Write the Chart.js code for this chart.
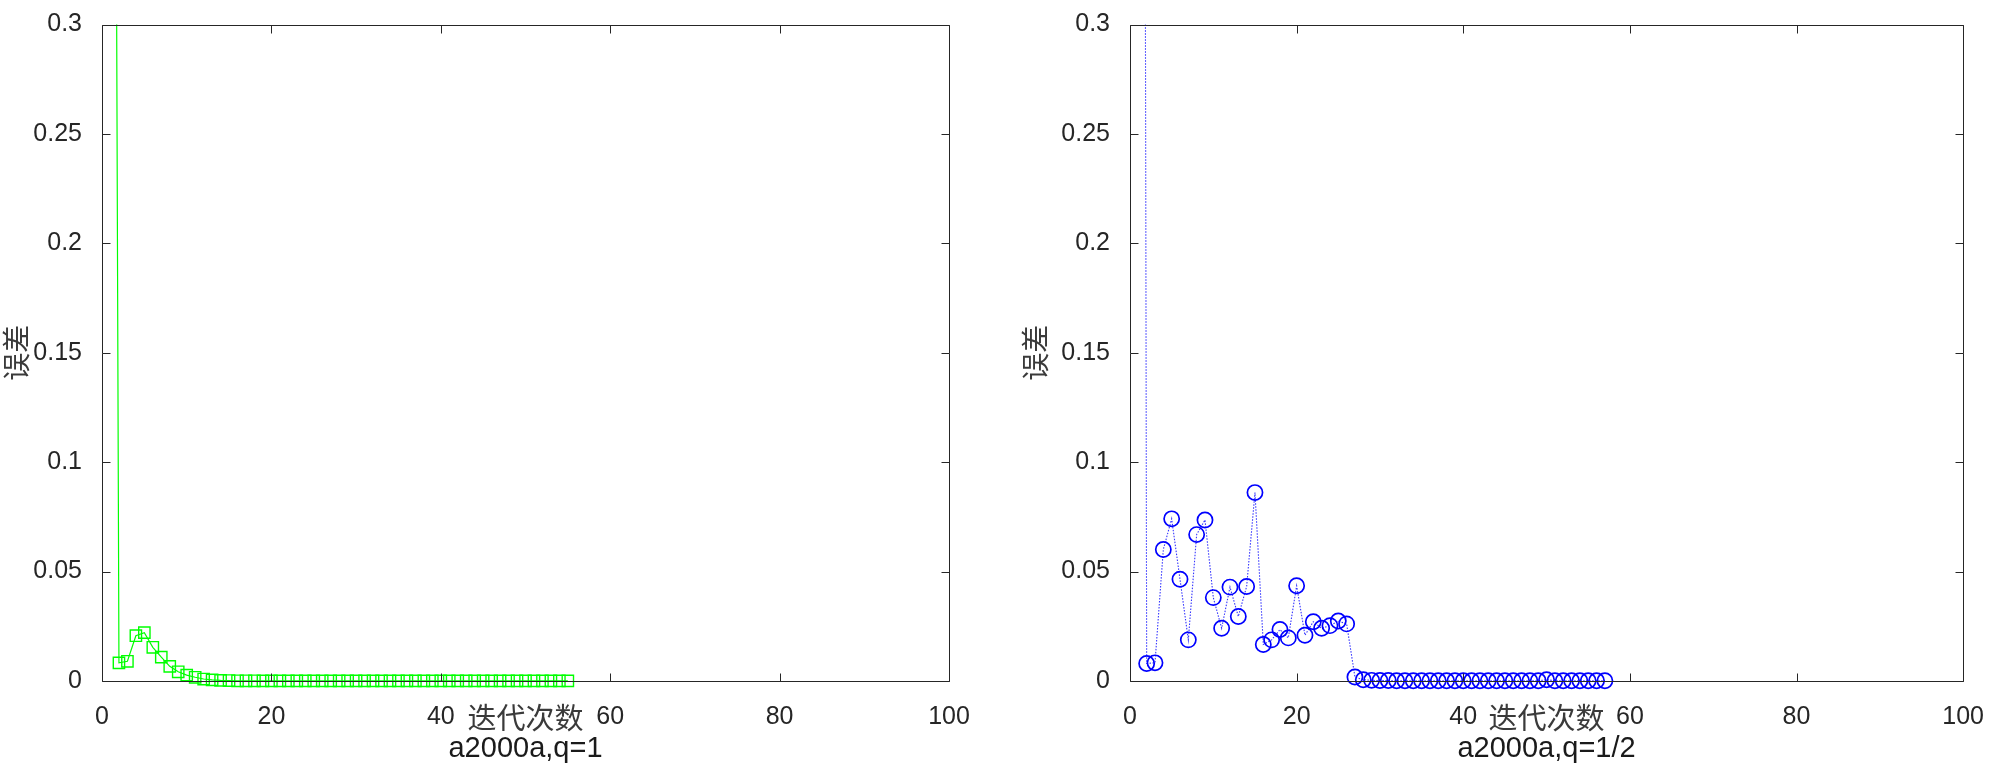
<!DOCTYPE html>
<html>
<head>
<meta charset="utf-8">
<script src="https://cdn.jsdelivr.net/npm/chart.js@4.4.0/dist/chart.umd.min.js"></script>
<style>
  html, body { margin: 0; padding: 0; background: #fff; }
  #wrap { position: relative; width: 2000px; height: 768px; }
  .box { position: absolute; top: 0; width: 1000px; height: 768px; }
</style>
</head>
<body>
<div id="wrap">
  <div class="box" style="left:0"><canvas id="c1"></canvas></div>
  <div class="box" style="left:1000px"><canvas id="c2"></canvas></div>
</div>
<script>
// error per iteration (iteration 1, 2, 3 ...)
// the first value is off the top of the axes
const errQ1 = [
  1.1, 0.0083, 0.009, 0.0207, 0.0221, 0.0154, 0.0109, 0.0067, 0.0042, 0.0027,
  0.0017, 0.0009, 0.0005, 0.0003, 0.0002, 0.0001, 0.0001, 0.0001, 0.00005, 0.00005,
  0.00005, 0.00005, 0.00005, 0.00005, 0.00005, 0.00005, 0.00005, 0.00005, 0.00005, 0.00005,
  0.00005, 0.00005, 0.00005, 0.00005, 0.00005, 0.00005, 0.00005, 0.00005, 0.00005, 0.00005,
  0.00005, 0.00005, 0.00005, 0.00005, 0.00005, 0.00005, 0.00005, 0.00005, 0.00005, 0.00005,
  0.00005, 0.00005, 0.00005, 0.00005, 0.00005
];
const errQhalf = [
  2.0, 0.0080, 0.0083, 0.0601, 0.0741, 0.0465, 0.0188, 0.0669, 0.0736, 0.0381,
  0.0241, 0.0429, 0.0295, 0.0432, 0.0861, 0.0167, 0.0188, 0.0235, 0.0197, 0.0435,
  0.0209, 0.0271, 0.0241, 0.0253, 0.0274, 0.0261, 0.0018, 0.0006, 0.0003, 0.0002,
  0.0002, 0.0001, 0.0001, 0.0001, 0.0001, 0.0001, 0.0001, 0.0001, 0.0001, 0.0001,
  0.0001, 0.0001, 0.0001, 0.0001, 0.0001, 0.0001, 0.0001, 0.0001, 0.0001, 0.0006,
  0.0001, 0.0001, 0.0001, 0.0001, 0.0001, 0.0001, 0.0001
];

const xTicks = [0, 20, 40, 60, 80, 100];
const yTicks = [0, 0.05, 0.1, 0.15, 0.2, 0.25, 0.3];
const xTitle = '迭代次数';
const yTitle = '误差';
const subTitles = ['a2000a,q=1', 'a2000a,q=1/2'];

const AXIS = '#262626';
const cjk = '"Noto Sans CJK SC", sans-serif';
const latin = '"Liberation Sans", Arial, sans-serif';

// box round the axes, inward ticks on all four sides, and the labels
const matlabAxes = {
  id: 'matlabAxes',
  afterDraw(chart, args, o) {
    const { ctx, chartArea: a, scales } = chart;
    const L = Math.round(a.left) + 0.5, R = Math.round(a.right) + 0.5;
    const T = Math.round(a.top) + 0.5, B = Math.round(a.bottom) + 0.5;
    ctx.save();
    ctx.strokeStyle = AXIS;
    ctx.lineWidth = 1;
    ctx.beginPath();
    ctx.rect(L, T, R - L, B - T);
    scales.x.ticks.forEach(t => {
      const px = Math.round(scales.x.getPixelForValue(t.value)) + 0.5;
      ctx.moveTo(px, B); ctx.lineTo(px, B - 8);
      ctx.moveTo(px, T); ctx.lineTo(px, T + 8);
    });
    scales.y.ticks.forEach(t => {
      const py = Math.round(scales.y.getPixelForValue(t.value)) + 0.5;
      ctx.moveTo(L, py); ctx.lineTo(L + 8, py);
      ctx.moveTo(R, py); ctx.lineTo(R - 8, py);
    });
    ctx.stroke();

    const cx = (a.left + a.right) / 2;
    ctx.textAlign = 'center';
    ctx.textBaseline = 'middle';
    ctx.fillStyle = '#3a3a3a';
    ctx.font = '29px ' + cjk;
    ctx.fillText(xTitle, cx, a.bottom + 37);
    ctx.fillStyle = '#1a1a1a';
    ctx.font = '29px ' + latin;
    ctx.fillText(o.sub, cx, a.bottom + 68);

    ctx.translate(a.left - o.yOff, (a.top + a.bottom) / 2);
    ctx.rotate(-Math.PI / 2);
    ctx.fillStyle = '#3a3a3a';
    ctx.font = '28px ' + cjk;
    ctx.fillText(yTitle, 0, 0);
    ctx.restore();
  }
};

function makeChart(id, errs, ds, lay) {
  return new Chart(document.getElementById(id), {
    type: 'line',
    data: {
      datasets: [Object.assign({
        data: errs.map((v, i) => ({ x: i + 1, y: v })),
        backgroundColor: 'transparent',
        pointBackgroundColor: 'transparent',
        tension: 0,
        clip: { left: 12, right: 12, top: 0, bottom: 12 }
      }, ds)]
    },
    options: {
      responsive: true,
      maintainAspectRatio: false,
      animation: false,
      layout: { padding: { top: 13, right: lay.right, bottom: 0, left: 0 } },
      plugins: {
        legend: { display: false },
        tooltip: { enabled: false },
        matlabAxes: { sub: lay.sub, yOff: lay.yOff }
      },
      scales: {
        x: {
          type: 'linear', min: 0, max: 100,
          afterBuildTicks: s => { s.ticks = xTicks.map(v => ({ value: v })); },
          afterFit: s => { s.height = 87; },
          grid: { display: false },
          border: { display: false },
          ticks: { color: AXIS, padding: 16, maxRotation: 0,
                   font: { family: latin, size: 25, lineHeight: 1 } }
        },
        y: {
          type: 'linear', min: 0, max: 0.3,
          afterBuildTicks: s => { s.ticks = yTicks.map(v => ({ value: v })); },
          afterFit: s => { s.width = lay.left; },
          grid: { display: false },
          border: { display: false },
          ticks: { color: AXIS, padding: 12,
                   callback: v => String(+v.toFixed(2)),
                   font: { family: latin, size: 25, lineHeight: 1 } }
        }
      }
    },
    plugins: [matlabAxes]
  });
}

Promise.all([
  document.fonts.load('28px "Noto Sans CJK SC"', xTitle + yTitle),
  document.fonts.load('25px "Liberation Sans"', '0123456789.')
]).catch(() => {}).then(() => {
  makeChart('c1', errQ1, {
    borderColor: '#00ff00', borderWidth: 1.2,
    pointStyle: 'rect', pointRadius: 8, pointBorderWidth: 1.4,
    pointBorderColor: '#00ff00'
  }, { left: 102, right: 51, sub: subTitles[0], yOff: 86 });

  makeChart('c2', errQhalf, {
    borderColor: '#3535ff', borderWidth: 1.1, borderDash: [1.5, 1.5],
    pointStyle: 'circle', pointRadius: 7.6, pointBorderWidth: 1.7,
    pointBorderColor: '#0000ff'
  }, { left: 130, right: 24, sub: subTitles[1], yOff: 95 });
});
</script>
</body>
</html>
